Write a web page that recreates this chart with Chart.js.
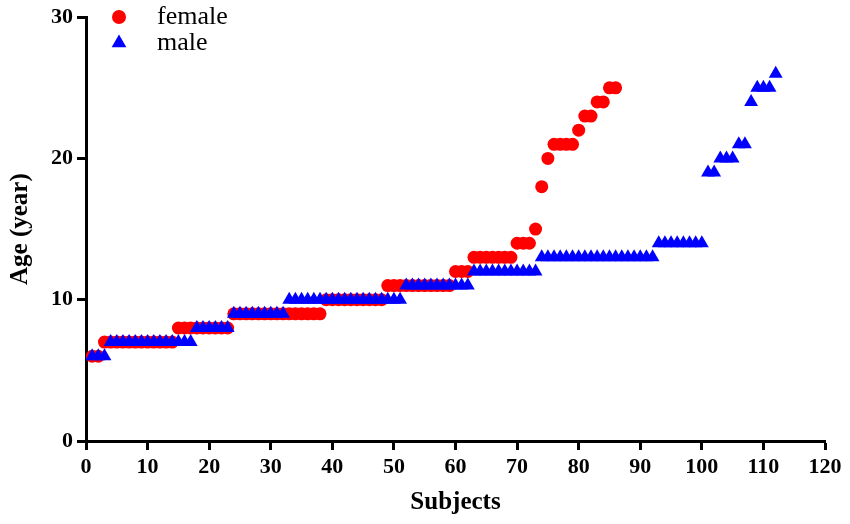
<!DOCTYPE html>
<html>
<head>
<meta charset="utf-8">
<script src="https://cdn.jsdelivr.net/npm/chart.js@4/dist/chart.umd.min.js"></script>
<style>
  html, body { margin: 0; padding: 0; background: #fff; }
  #wrap { width: 850px; height: 524px; }
</style>
</head>
<body>
<div id="wrap"><canvas id="ageChart" width="850" height="524"></canvas></div>
<script>
'use strict';

// age of each subject, in subject order (subject 1, 2, 3 ...)
var femaleAge = [
    6, 6,
    7, 7, 7, 7, 7, 7, 7, 7, 7, 7, 7, 7,
    8, 8, 8, 8, 8, 8, 8, 8, 8,
    9, 9, 9, 9, 9, 9, 9, 9, 9, 9, 9, 9, 9, 9, 9,
    10, 10, 10, 10, 10, 10, 10, 10, 10, 10,
    11, 11, 11, 11, 11, 11, 11, 11, 11, 11, 11,
    12, 12, 12,
    13, 13, 13, 13, 13, 13, 13,
    14, 14, 14,
    15, 18, 20,
    21, 21, 21, 21,
    22, 23, 23, 24, 24, 25, 25
];

var maleAge = [
    6, 6, 6,
    7, 7, 7, 7, 7, 7, 7, 7, 7, 7, 7, 7, 7, 7,
    8, 8, 8, 8, 8, 8,
    9, 9, 9, 9, 9, 9, 9, 9, 9,
    10, 10, 10, 10, 10, 10, 10, 10, 10, 10, 10, 10, 10, 10, 10, 10, 10, 10, 10,
    11, 11, 11, 11, 11, 11, 11, 11, 11, 11, 11,
    12, 12, 12, 12, 12, 12, 12, 12, 12, 12, 12,
    13, 13, 13, 13, 13, 13, 13, 13, 13, 13, 13, 13, 13, 13, 13, 13, 13, 13, 13,
    14, 14, 14, 14, 14, 14, 14, 14,
    19, 19, 20, 20, 20, 21, 21,
    24, 25, 25, 25, 26
];

var xTicks = [0, 10, 20, 30, 40, 50, 60, 70, 80, 90, 100, 110, 120];
var yTicks = [0, 10, 20, 30];

function toPoints(ages) {
    return ages.map(function(a, i) { return { x: i + 1, y: a }; });
}

var serif = "'Liberation Serif', 'Times New Roman', serif";

// legend drawn inside the plot, top left
var legendInside = {
    id: 'legendInside',
    afterDraw: function(chart) {
        var ctx = chart.ctx;
        var rows = [
            { label: 'female', style: 'circle', color: '#ff0000', r: 7, y: 17 },
            { label: 'male', style: 'triangle', color: '#0000ff', r: 8.5, y: 43 }
        ];
        ctx.save();
        rows.forEach(function(row) {
            ctx.fillStyle = row.color;
            ctx.strokeStyle = row.color;
            Chart.helpers.drawPoint(ctx, { pointStyle: row.style, radius: row.r, borderWidth: 0 }, 119, row.y);
            ctx.fillStyle = '#000';
            ctx.font = '26px ' + serif;
            ctx.textBaseline = 'middle';
            ctx.textAlign = 'left';
            ctx.fillText(row.label, 157, row.y);
        });
        ctx.restore();
    }
};

var ctx = document.getElementById('ageChart').getContext('2d');
var ageChart = new Chart(ctx, {
    type: 'scatter',
    data: {
        datasets: [{
            label: 'female',
            data: toPoints(femaleAge),
            pointStyle: 'circle',
            pointRadius: 6.5,
            backgroundColor: '#ff0000',
            borderColor: '#ff0000',
            borderWidth: 0,
            order: 2
        }, {
            label: 'male',
            data: toPoints(maleAge),
            pointStyle: 'triangle',
            pointRadius: 8,
            backgroundColor: '#0000ff',
            borderColor: '#0000ff',
            borderWidth: 0,
            order: 1
        }]
    },
    options: {
        responsive: false,
        animation: false,
        devicePixelRatio: 1,
        layout: { padding: { top: 15, right: 25, left: 0, bottom: 0 } },
        plugins: {
            legend: { display: false },
            tooltip: { enabled: false }
        },
        scales: {
            x: {
                type: 'linear',
                min: 0,
                max: 120,
                afterFit: function(scale) { scale.height = 83; },
                afterBuildTicks: function(scale) {
                    scale.ticks = xTicks.map(function(v) { return { value: v }; });
                },
                border: { display: true, color: '#000', width: 3 },
                grid: { drawOnChartArea: false, drawTicks: true, tickLength: 9, tickWidth: 3, color: '#000' },
                ticks: {
                    color: '#000',
                    padding: 4,
                    maxRotation: 0,
                    font: { family: serif, size: 22, weight: 'bold' }
                },
                title: {
                    display: true,
                    text: 'Subjects',
                    color: '#000',
                    padding: { top: 0, bottom: 6 },
                    font: { family: serif, size: 25, weight: 'bold' }
                }
            },
            y: {
                type: 'linear',
                min: 0,
                max: 30,
                afterFit: function(scale) { scale.width = 86; },
                afterBuildTicks: function(scale) {
                    scale.ticks = yTicks.map(function(v) { return { value: v }; });
                },
                border: { display: true, color: '#000', width: 3 },
                grid: { drawOnChartArea: false, drawTicks: true, tickLength: 9, tickWidth: 3, color: '#000' },
                ticks: {
                    color: '#000',
                    padding: 4,
                    font: { family: serif, size: 22, weight: 'bold' }
                },
                title: {
                    display: true,
                    text: 'Age (year)',
                    color: '#000',
                    padding: { top: 6, bottom: 0 },
                    font: { family: serif, size: 25, weight: 'bold' }
                }
            }
        }
    },
    plugins: [legendInside]
});
</script>
</body>
</html>
